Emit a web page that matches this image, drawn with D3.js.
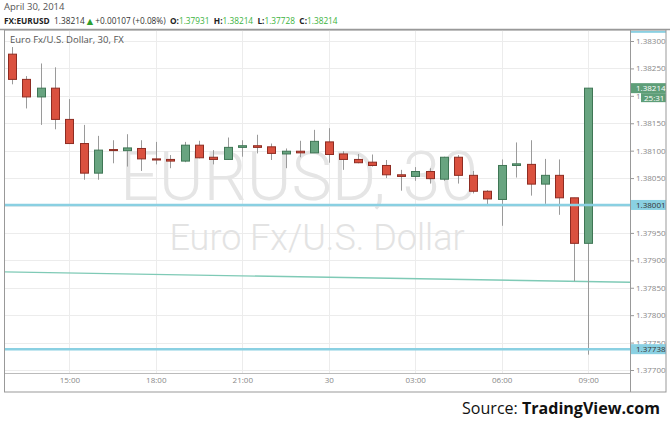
<!DOCTYPE html>
<html><head><meta charset="utf-8">
<script src="https://cdn.jsdelivr.net/npm/d3@7"></script>
<style>html,body{margin:0;padding:0;background:#fff;}svg{display:block;}</style>
</head><body>
<svg id="c" width="670" height="425"></svg>
<script>
const times = ["2014-04-29T13:00","2014-04-29T13:30","2014-04-29T14:00","2014-04-29T14:30","2014-04-29T15:00","2014-04-29T15:30","2014-04-29T16:00","2014-04-29T16:30","2014-04-29T17:00","2014-04-29T17:30","2014-04-29T18:00","2014-04-29T18:30","2014-04-29T19:00","2014-04-29T19:30","2014-04-29T20:00","2014-04-29T20:30","2014-04-29T21:00","2014-04-29T21:30","2014-04-29T22:00","2014-04-29T22:30","2014-04-29T23:00","2014-04-29T23:30","2014-04-30T00:00","2014-04-30T00:30","2014-04-30T01:00","2014-04-30T01:30","2014-04-30T02:00","2014-04-30T02:30","2014-04-30T03:00","2014-04-30T03:30","2014-04-30T04:00","2014-04-30T04:30","2014-04-30T05:00","2014-04-30T05:30","2014-04-30T06:00","2014-04-30T06:30","2014-04-30T07:00","2014-04-30T07:30","2014-04-30T08:00","2014-04-30T08:30","2014-04-30T09:00"];
const openP  = [1.38276,1.38230,1.38198,1.38214,1.38157,1.38113,1.38059,1.38102,1.38100,1.38104,1.38085,1.38084,1.38081,1.38110,1.38088,1.38084,1.38106,1.38109,1.38107,1.38094,1.38099,1.38096,1.38116,1.38094,1.38084,1.38079,1.38073,1.38056,1.38053,1.38062,1.38048,1.38088,1.38055,1.38026,1.38011,1.38073,1.38075,1.38039,1.38055,1.38014,1.37931];
const highP  = [1.38289,1.38236,1.38259,1.38252,1.38194,1.38147,1.38127,1.38119,1.38130,1.38119,1.38116,1.38092,1.38116,1.38118,1.38101,1.38124,1.38119,1.38129,1.38113,1.38104,1.38118,1.38138,1.38141,1.38099,1.38094,1.38093,1.38083,1.38065,1.38070,1.38068,1.38089,1.38092,1.38063,1.38028,1.38084,1.38115,1.38119,1.38085,1.38084,1.38014,1.38214];
const lowP   = [1.38221,1.38177,1.38147,1.38139,1.38112,1.38047,1.38047,1.38077,1.38071,1.38063,1.38075,1.38068,1.38079,1.38086,1.38075,1.38083,1.38089,1.38095,1.38083,1.38068,1.38088,1.38096,1.38078,1.38065,1.38077,1.38071,1.38050,1.38027,1.38045,1.38040,1.38045,1.38040,1.38022,1.37999,1.37963,1.38051,1.38018,1.38003,1.37983,1.37862,1.37728];
const closeP = [1.38230,1.38198,1.38214,1.38157,1.38113,1.38059,1.38101,1.38101,1.38105,1.38085,1.38083,1.38081,1.38110,1.38087,1.38084,1.38106,1.38109,1.38106,1.38095,1.38099,1.38096,1.38117,1.38093,1.38084,1.38078,1.38073,1.38056,1.38053,1.38062,1.38049,1.38088,1.38055,1.38026,1.38012,1.38073,1.38076,1.38039,1.38055,1.38014,1.37931,1.38214];

const yTickValues = [1.377,1.3775,1.378,1.3785,1.379,1.3795,1.38,1.3805,1.381,1.3815,1.382,1.3825,1.383];
const yTickLabels = ["1.37700","1.37750","1.37800","1.37850","1.37900","1.37950","1.38000","1.38050","1.38100","1.38150","1.38200","1.38250","1.38300"];
const xTickTimes = ["2014-04-29T15:00","2014-04-29T18:00","2014-04-29T21:00","2014-04-30T00:00","2014-04-30T03:00","2014-04-30T06:00","2014-04-30T09:00"];
const xTickLabels = ["15:00","18:00","21:00","30","03:00","06:00","09:00"];

const levelPrices = [1.38001, 1.37738];
const levelLabels = ["1.38001", "1.37738"];
const topLevelPrice = 1.38324, topLevelLabel = "1.38324";
const trendTimes = ["2014-04-29T12:44","2014-04-30T10:27"];
const trendPrices = [1.37879, 1.37860];
const lastPriceLabel = "1.38214", countdownLabel = "25:31";

const parse = d3.timeParse("%Y-%m-%dT%H:%M");
const data = times.map((t,i)=>({t:parse(t),o:openP[i],h:highP[i],l:lowP[i],c:closeP[i]}));

const L=4, R=630, T=30, B=373;
const x = d3.scaleTime().domain([parse("2014-04-29T12:44"), parse("2014-04-30T10:27")]).range([L, R]);
const y = d3.scaleLinear().domain([1.377, 1.383]).range([370, 41]);

const svg = d3.select("#c");
const font = "'Open Sans', 'DejaVu Sans', sans-serif";

// header
svg.append("text").attr("x",4).attr("y",10).attr("font-family",font).attr("font-size",9.5).attr("fill","#555").text("April 30, 2014");
const hdr = svg.append("text").attr("x",4).attr("y",24).attr("font-family",font).attr("font-size",10).attr("fill","#333");
const green="#3db33d";
const parts = [["FX:EURUSD","#222",700],["  1.38214 ","#333",400],["▲","#2e9e2e",400],[" +0.00107 (+0.08%)  ","#333",400],["O:","#222",700],["1.37931",green,400],["  H:","#222",700],["1.38214",green,400],["  L:","#222",700],["1.37728",green,400],["  C:","#222",700],["1.38214",green,400]];
parts.forEach(p=>hdr.append("tspan").attr("fill",p[1]).attr("font-weight",p[2]).text(p[0]));
hdr.attr("style","white-space:pre");
const hl = hdr.node().getComputedTextLength();
hdr.attr("font-size", 10*334/hl);

svg.append("line").attr("x1",0).attr("x2",670).attr("y1",29.5).attr("y2",29.5).attr("stroke","#999").attr("stroke-width",1.5);

// clip for plot
svg.append("clipPath").attr("id","pc").append("rect").attr("x",L).attr("y",T).attr("width",R-L).attr("height",B-T);
const plot = svg.append("g").attr("clip-path","url(#pc)");

// grid
plot.selectAll(".hg").data(yTickValues).enter().append("line")
  .attr("x1",L).attr("x2",R).attr("y1",d=>Math.round(y(d))+0.5).attr("y2",d=>Math.round(y(d))+0.5)
  .attr("stroke","#ececec");
plot.selectAll(".vg").data(xTickTimes).enter().append("line")
  .attr("x1",d=>Math.round(x(parse(d)))+0.5).attr("x2",d=>Math.round(x(parse(d)))+0.5).attr("y1",T).attr("y2",B)
  .attr("stroke","#ececec");

// watermark
plot.append("text").attr("x",299).attr("y",200).attr("text-anchor","middle").attr("font-family","Roboto, 'Open Sans', sans-serif").attr("font-weight",300)
  .attr("font-size",68).attr("fill","#e5e5e5").text("EURUSD, 30");
plot.append("text").attr("x",317).attr("y",250).attr("text-anchor","middle").attr("font-family","Roboto, 'Open Sans', sans-serif").attr("font-weight",300)
  .attr("font-size",36).attr("fill","#e3e3e3").text("Euro Fx/U.S. Dollar");

plot.append("text").attr("x",10).attr("y",43).attr("font-family",font).attr("font-size",9.5).attr("fill","#555").text("Euro Fx/U.S. Dollar, 30, FX");

// trend line
plot.append("line").attr("x1",x(parse(trendTimes[0]))).attr("x2",x(parse(trendTimes[1])))
  .attr("y1",y(trendPrices[0])).attr("y2",y(trendPrices[1])).attr("stroke","#7fcab6").attr("stroke-width",1.3);

// candles
const bw = 8;
const cg = plot.selectAll(".cdl").data(data).enter().append("g");
cg.append("line").attr("x1",d=>Math.round(x(d.t))+0.5).attr("x2",d=>Math.round(x(d.t))+0.5)
  .attr("y1",d=>y(d.h)).attr("y2",d=>y(d.l)).attr("stroke","#9a9a9a").attr("stroke-width",1);
cg.append("rect").attr("x",d=>Math.round(x(d.t))-bw/2+0.5).attr("width",bw)
  .attr("y",d=>y(Math.max(d.o,d.c))).attr("height",d=>Math.max(1,Math.abs(y(d.o)-y(d.c))))
  .attr("fill",d=>d.c>=d.o?"#68a480":"#da513f").attr("stroke",d=>d.c>=d.o?"#3f7655":"#8e2c22").attr("stroke-width",1);

// level lines
plot.selectAll(".lvl").data(levelPrices).enter().append("line").attr("x1",L).attr("x2",R)
  .attr("y1",d=>y(d)).attr("y2",d=>y(d)).attr("stroke","#8ad0e2").attr("stroke-width",2.5);

// x axis separator
svg.append("line").attr("x1",L).attr("x2",R).attr("y1",B+0.5).attr("y2",B+0.5).attr("stroke","#bbb");

// y axis
const yAxis = d3.axisRight(y).tickValues(yTickValues).tickFormat((d,i)=>yTickLabels[i]).tickSize(4).tickPadding(2);
const ya = svg.append("g").attr("transform",`translate(${R},0)`).call(yAxis);
ya.select(".domain").remove();
ya.selectAll("line").attr("stroke","#999");
ya.selectAll("text").attr("font-family",font).attr("font-size",8).attr("fill","#888");
svg.append("line").attr("x1",R+0.5).attr("x2",R+0.5).attr("y1",T).attr("y2",392).attr("stroke","#999");

// x axis
const xAxis = d3.axisBottom(x).tickValues(xTickTimes.map(parse)).tickFormat((d,i)=>xTickLabels[i]).tickSize(0).tickPadding(4);
const xa = svg.append("g").attr("transform",`translate(0,${B})`).call(xAxis);
xa.select(".domain").remove();
xa.selectAll("text").attr("font-family",font).attr("font-size",8).attr("fill","#888");

// labels on axis
function axisLabel(price, label, bg, fg, x0){
  const yy = y(price);
  svg.append("rect").attr("x",x0).attr("y",yy-5).attr("width",666-x0).attr("height",10).attr("fill",bg);
  svg.append("text").attr("x",x0+5).attr("y",yy+3).attr("font-family",font).attr("font-size",8).attr("fill",fg).text(label);
}
levelPrices.forEach((p,i)=>axisLabel(p, levelLabels[i], "#8ad0e2", "#333", R+1));
axisLabel(closeP[closeP.length-1], lastPriceLabel, "#5e9e78", "#fff", R+1);
{
  const yy = y(closeP[closeP.length-1]) + 10;
  svg.append("rect").attr("x",641).attr("y",yy-5).attr("width",25).attr("height",9).attr("fill","#5e9e78");
  svg.append("text").attr("x",644).attr("y",yy+2.5).attr("font-family",font).attr("font-size",8).attr("fill","#fff").text(countdownLabel);
}
// top clipped level label
svg.append("clipPath").attr("id","tc").append("rect").attr("x",R).attr("y",T+1).attr("width",40).attr("height",10);
const tg = svg.append("g").attr("clip-path","url(#tc)");
tg.append("rect").attr("x",R+1).attr("y",y(topLevelPrice)-5).attr("width",666-R-1).attr("height",10).attr("fill","#8ad0e2");
tg.append("text").attr("x",R+6).attr("y",y(topLevelPrice)+3).attr("font-family",font).attr("font-size",8).attr("fill","#333").text(topLevelLabel);

// frame
svg.append("rect").attr("x",4.5).attr("y",30).attr("width",661.5).attr("height",362).attr("fill","none").attr("stroke","#999");

// source
const src = svg.append("text").attr("x",660).attr("y",414).attr("text-anchor","end").attr("font-family","'Open Sans', sans-serif").attr("font-size",16).attr("fill","#111");
src.append("tspan").text("Source: ");
src.append("tspan").attr("font-weight",700).text("TradingView.com");
const sl = src.node().getComputedTextLength();
src.attr("font-size",16*198/sl);
</script>
</body></html>
